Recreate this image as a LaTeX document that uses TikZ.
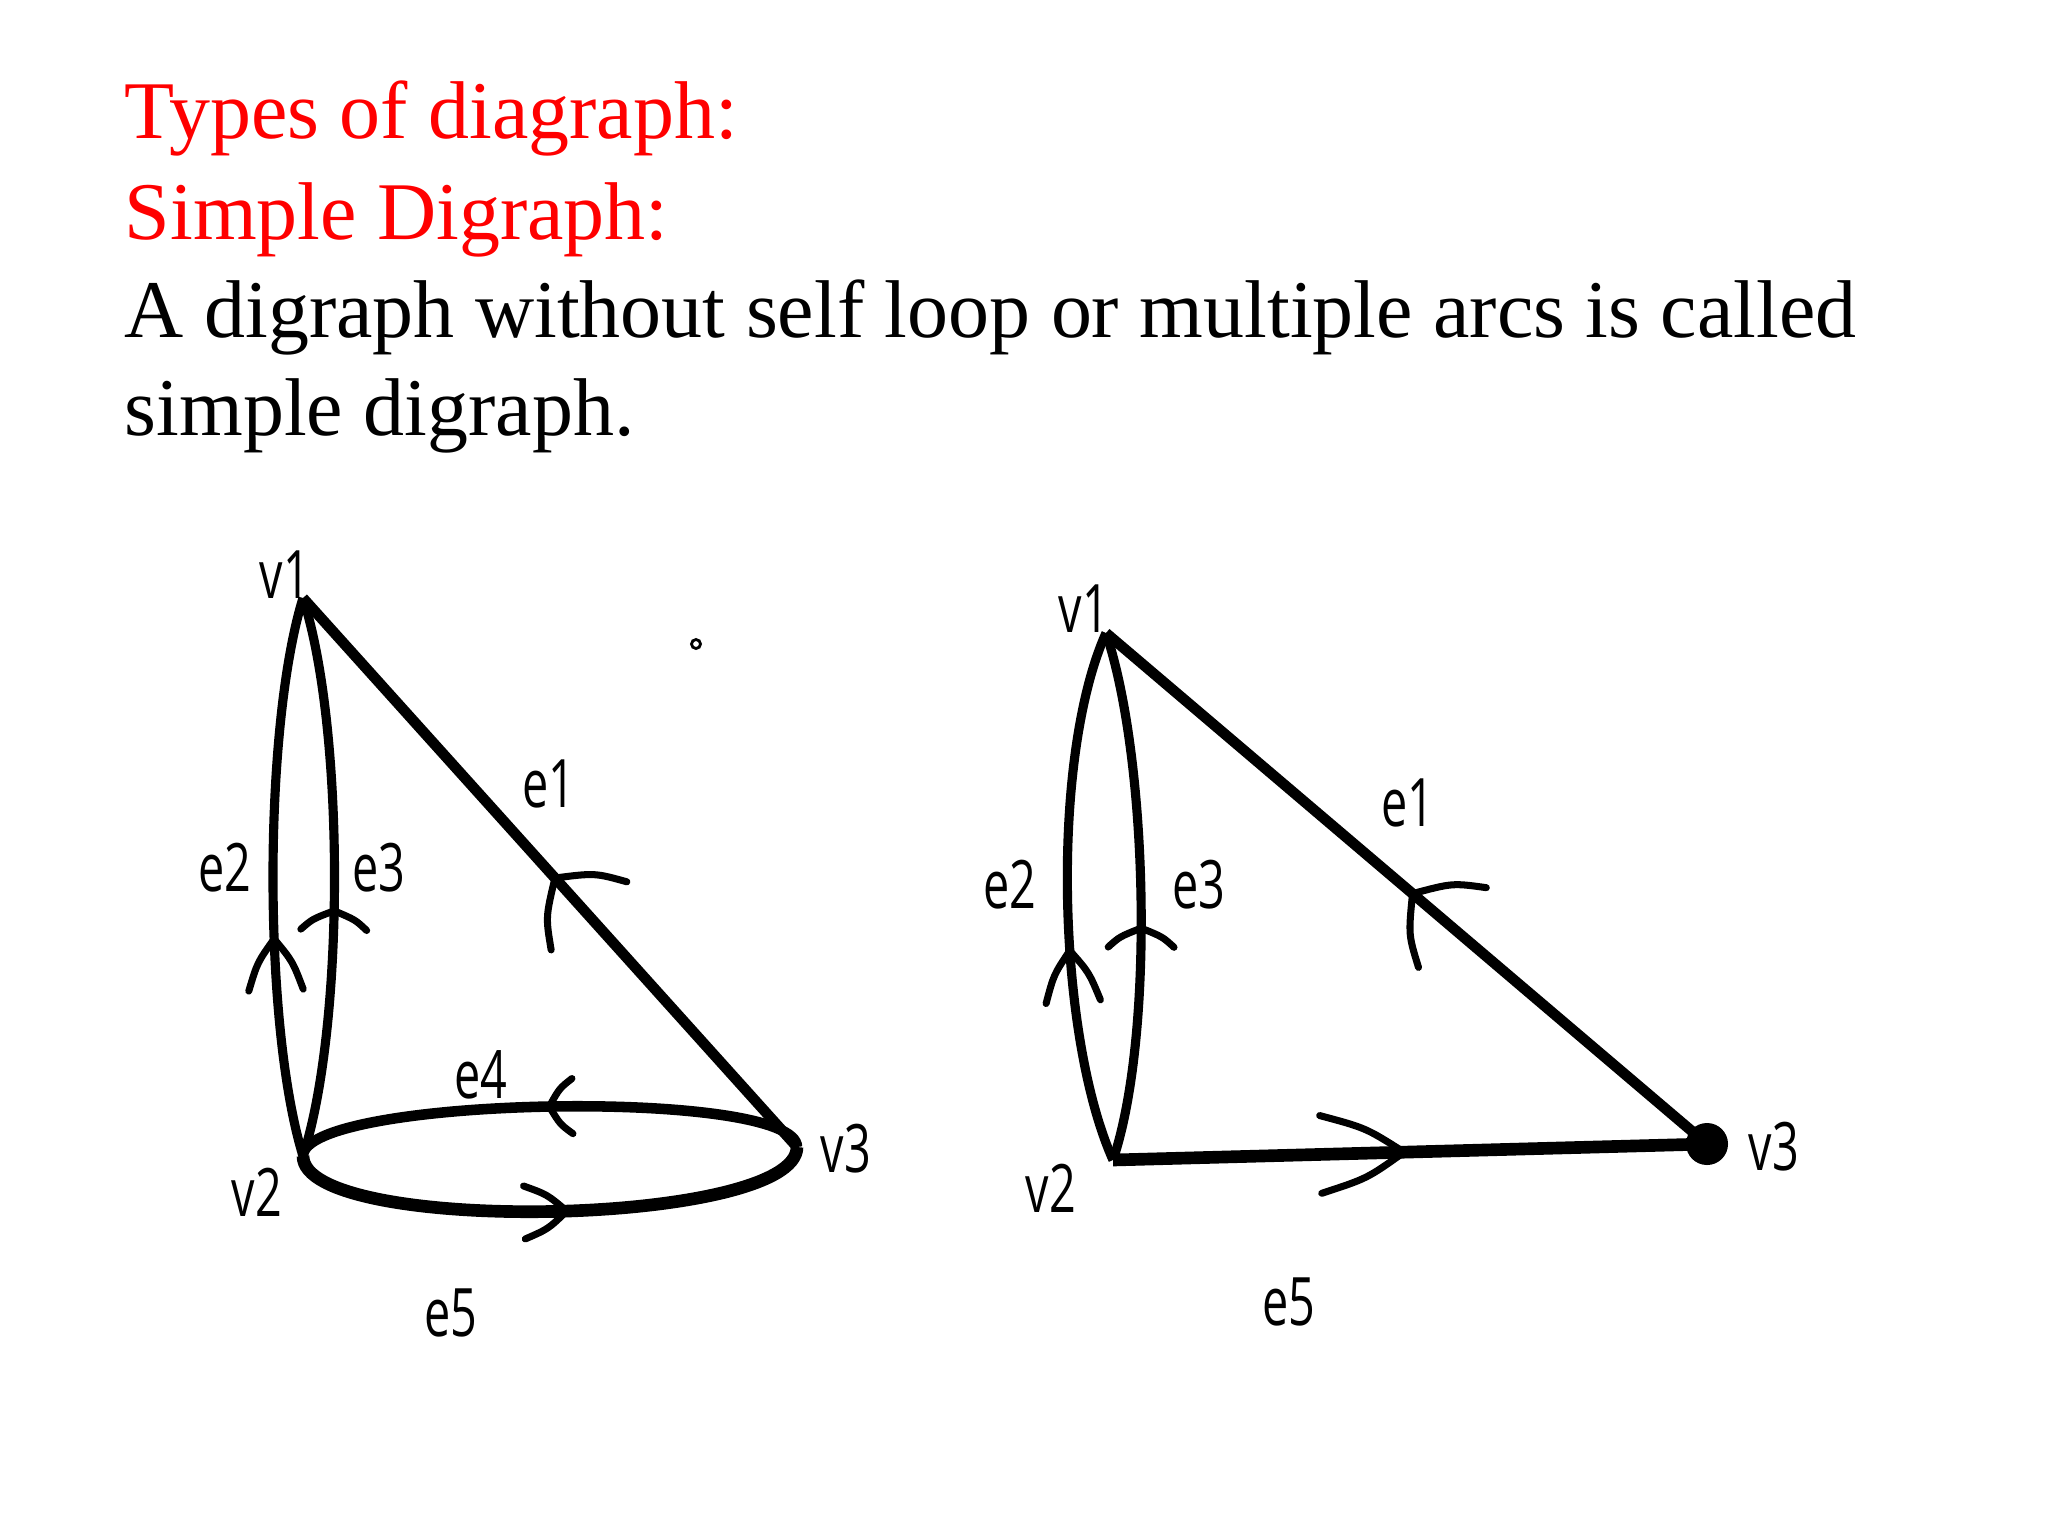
\documentclass[tikz,border=0pt]{standalone}
\usepackage{fontspec}
\setmainfont{Liberation Serif}
\newfontfamily\lblfont[FakeStretch=0.7]{Open Sans}
\usetikzlibrary{decorations.markings}

\begin{document}
\begin{tikzpicture}[x=0.01cm, y=-0.01cm,
    edge/.style={line width=3pt},
    arm/.style={line width=2pt, line cap=round},
    lbl/.style={font=\lblfont\fontsize{19}{20}\selectfont, inner sep=0pt},
    txt/.style={font=\fontsize{23.3}{28}\selectfont, anchor=base west, inner sep=0pt},
    handtip/.style n args={3}{postaction={decorate, decoration={markings,
        mark=at position #1 with {\draw[arm] ({-#2*cos(#3)},{#2*sin(#3)})
            .. controls ({-0.45*#2*cos(#3)},{0.65*#2*sin(#3)}) .. (0,0)
            .. controls ({-0.45*#2*cos(#3)},{-0.65*#2*sin(#3)}) .. ({-#2*cos(#3)},{-#2*sin(#3)});}}}}
]
\useasboundingbox[fill=white] (0,0) rectangle (2048,1536);

% heading and definition
\node[txt, red] (head) at (124,138) {Types of diagraph:};
\node[txt, red] (sub) at (124,239) {Simple Digraph:};
\node[txt] (def1) at (124,337) {A digraph without self loop or multiple arcs is called};
\node[txt] (def2) at (124,435) {simple digraph.};

% left digraph
\coordinate (a1) at (303,598);
\coordinate (a2) at (303,1156);
\coordinate (a3) at (797,1147);
\draw[edge, handtip={0.49}{72}{45}] (a3) -- (a1); %e1
\draw[edge, line width=2.6pt, handtip={0.39}{58}{28}] (a2) .. controls +(-40,-130) and +(-40,130) .. (a1); %e2
\draw[edge, line width=2.6pt, handtip={0.44}{38}{60}] (a2) .. controls +(42,-130) and +(42,130) .. (a1); %e3
\draw[edge, handtip={0.5}{36}{50}] (a3) .. controls +(0,-60) and +(0,-60) .. (a2); %e4
\draw[edge, line width=3.6pt, handtip={0.53}{50}{32}] (a2) .. controls +(0,80) and +(0,80) .. (a3); %e5
\node[draw, circle, line width=0.8pt, minimum size=0.09cm, inner sep=0pt] (speck) at (696,644) {};
\node[lbl] (la1) at (285,575) {v1};
\node[lbl] (la2) at (257,1192) {v2};
\node[lbl] (la3) at (846,1149) {v3};
\node[lbl] (le1) at (549,784) {e1};
\node[lbl] (le2) at (225,868) {e2};
\node[lbl] (le3) at (379,868) {e3};
\node[lbl] (le4) at (481,1075) {e4};
\node[lbl] (le5) at (451,1313) {e5};

% right digraph
\coordinate (b1) at (1106,633);
\coordinate (b2) at (1113,1160);
\node[circle, fill, minimum size=0.42cm, inner sep=0pt] (b3) at (1707,1144) {};
\draw[edge, handtip={0.49}{74}{45}] (b3.center) -- (b1); %e1
\draw[edge, line width=2.6pt, handtip={0.40}{58}{28}] (b2) .. controls +(-56,-125) and +(-56,125) .. (b1); %e2
\draw[edge, line width=2.6pt, handtip={0.44}{38}{60}] (b2) .. controls +(42,-125) and +(42,125) .. (b1); %e3
\draw[edge, line width=3.6pt, handtip={0.49}{92}{25}] (b2) -- (b3.center); %e5
\node[lbl] (lb1) at (1084,609) {v1};
\node[lbl] (lb2) at (1051,1188) {v2};
\node[lbl] (lb3) at (1774,1147) {v3};
\node[lbl] (lf1) at (1408,803) {e1};
\node[lbl] (lf2) at (1010,885) {e2};
\node[lbl] (lf3) at (1199,885) {e3};
\node[lbl] (lf5) at (1289,1302) {e5};
\end{tikzpicture}
\end{document}
